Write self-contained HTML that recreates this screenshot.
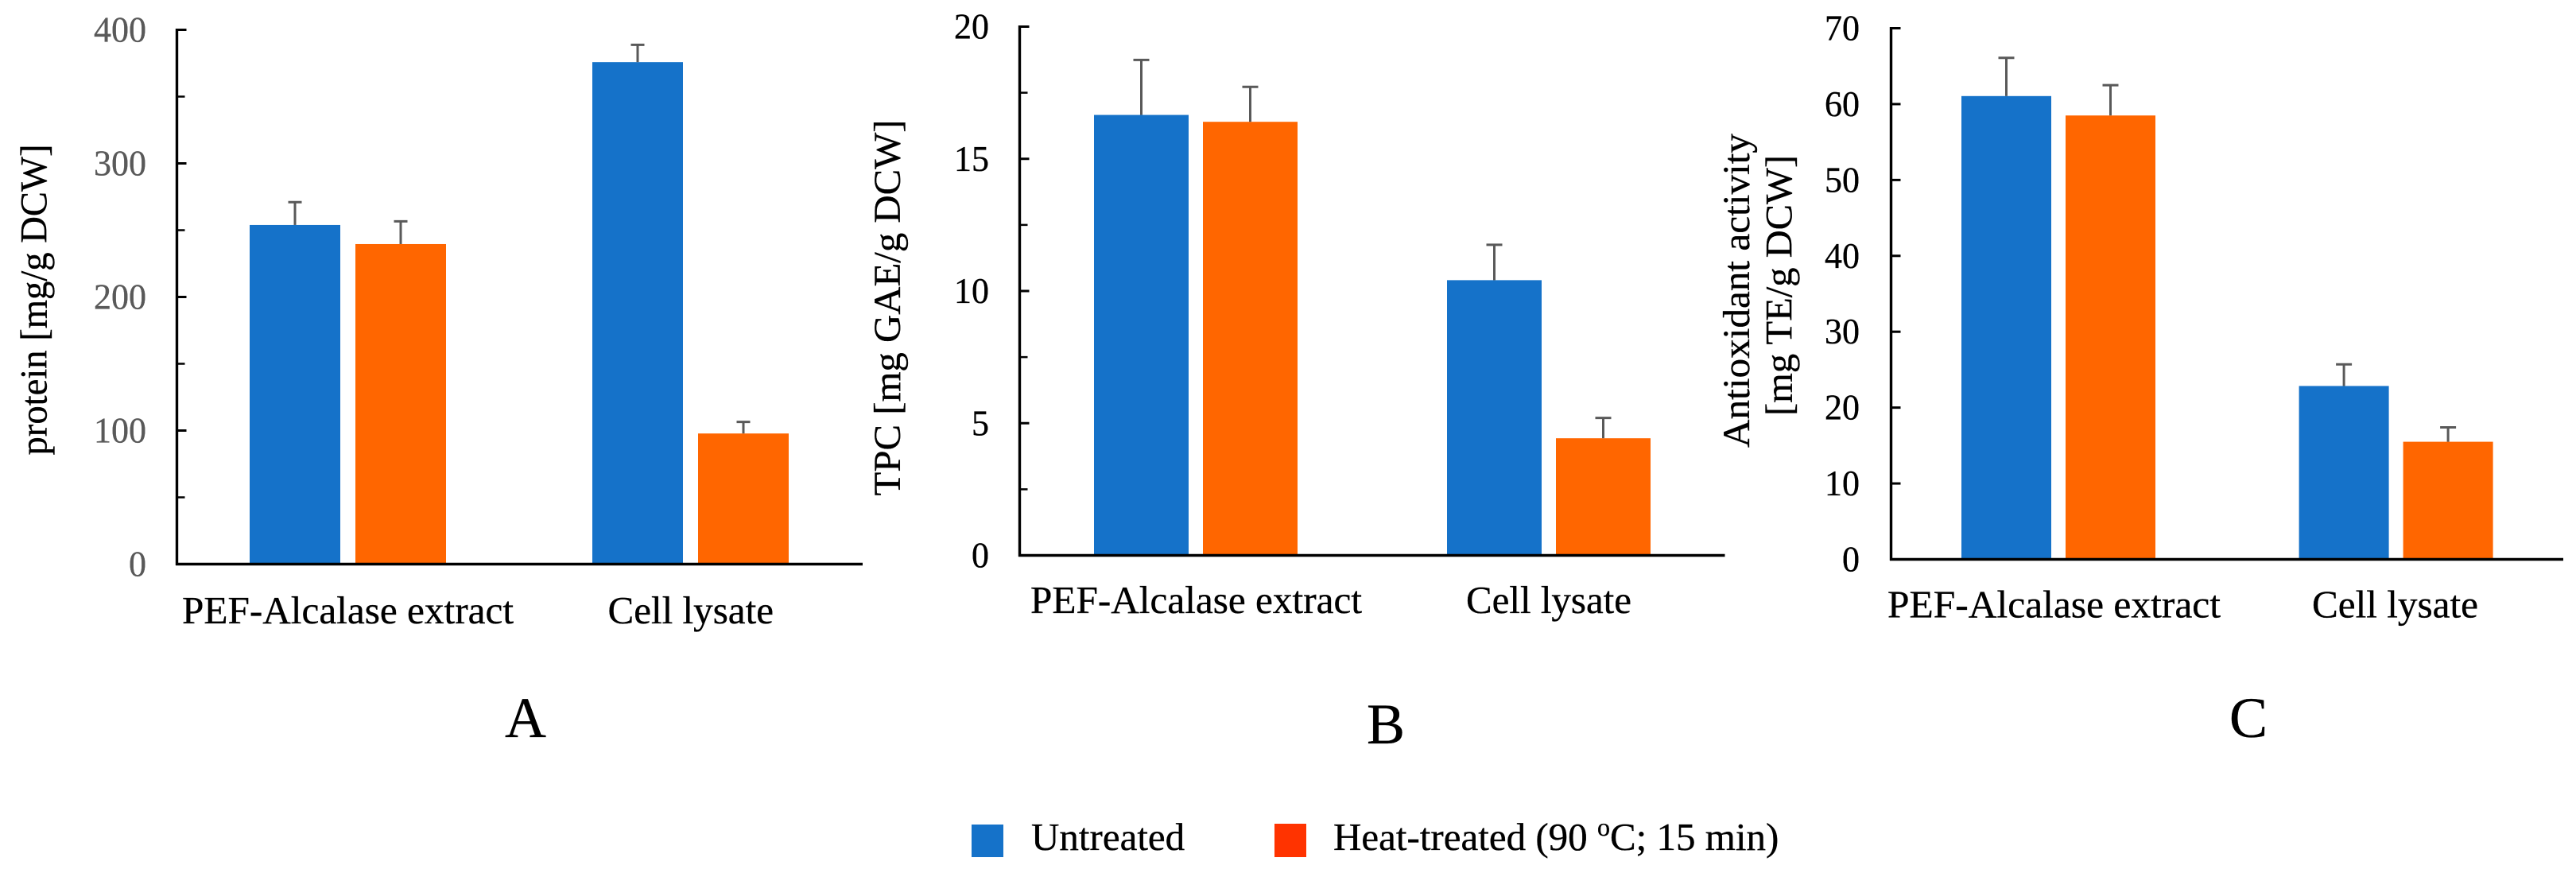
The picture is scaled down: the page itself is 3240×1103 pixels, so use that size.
<!DOCTYPE html>
<html lang="en">
<head>
<meta charset="utf-8">
<title>Protein, TPC and antioxidant activity bar charts</title>
<style>
html,body{margin:0;padding:0;background:#fff;}
svg{display:block;font-family:"Liberation Serif",serif;}
text{stroke-width:0.35px;paint-order:stroke;}
</style>
</head>
<body>
<svg id="figure" xmlns="http://www.w3.org/2000/svg" width="3240" height="1103" viewBox="0 0 3240 1103">
  <rect x="0" y="0" width="3240" height="1103" fill="#ffffff"/>
  <text x="635" y="927" font-size="72" fill="#000" stroke="#000">A</text>
  <text x="1719" y="935" font-size="72" fill="#000" stroke="#000">B</text>
  <text x="2804" y="927" font-size="72" fill="#000" stroke="#000">C</text>
  <g>
    <rect x="1222" y="1037" width="40" height="41" fill="#1572C9"/>
    <text x="1297" y="1069" font-size="49" fill="#000" stroke="#000">Untreated</text>
    <rect x="1603" y="1036" width="40" height="42" fill="#FF3300"/>
    <text x="1677" y="1069" font-size="49" fill="#000" stroke="#000">Heat-treated (90 <tspan font-size="32" dy="-18">o</tspan><tspan dy="18">C; 15 min)</tspan></text>
  </g>
</svg>
<script>
// Shared categories and series names
const categories = ['PEF-Alcalase extract', 'Cell lysate'];
const seriesNames = ['untreated', 'heat-treated'];
const seriesColors = ['#1572C9', '#FF6600'];

// Panel A: protein
const proteinUntreated = [253.9, 375.8];
const proteinHeatTreated = [239.6, 97.8];
const proteinUntreatedTop = [271, 388.8];
const proteinHeatTreatedTop = [256.6, 106.5];
const proteinMajorTicks = [0, 100, 200, 300, 400];
const proteinMinorTicks = [50, 150, 250, 350];

// Panel B: TPC
const tpcUntreated = [16.66, 10.41];
const tpcHeatTreated = [16.4, 4.43];
const tpcUntreatedTop = [18.74, 11.75];
const tpcHeatTreatedTop = [17.72, 5.2];
const tpcMajorTicks = [0, 5, 10, 15, 20];
const tpcMinorTicks = [2.5, 7.5, 12.5, 17.5];

// Panel C: antioxidant activity
const antioxUntreated = [61.06, 22.85];
const antioxHeatTreated = [58.5, 15.5];
const antioxUntreatedTop = [66.1, 25.7];
const antioxHeatTreatedTop = [62.5, 17.4];
const antioxMajorTicks = [0, 10, 20, 30, 40, 50, 60, 70];
const antioxMinorTicks = [];

const svg = document.getElementById('figure');
const NS = 'http://www.w3.org/2000/svg';

function line(parent, x1, y1, x2, y2, color, width) {
  const el = document.createElementNS(NS, 'line');
  el.setAttribute('x1', x1);
  el.setAttribute('y1', y1);
  el.setAttribute('x2', x2);
  el.setAttribute('y2', y2);
  el.setAttribute('stroke', color);
  el.setAttribute('stroke-width', width);
  parent.appendChild(el);
  return el;
}

function label(parent, str, x, y, size, color, anchor, fitWidth) {
  const el = document.createElementNS(NS, 'text');
  el.textContent = str;
  el.setAttribute('x', x);
  el.setAttribute('y', y);
  el.setAttribute('font-size', size);
  el.setAttribute('fill', color);
  el.setAttribute('stroke', color);
  el.setAttribute('text-anchor', anchor);
  if (fitWidth) {
    el.setAttribute('textLength', fitWidth);
    el.setAttribute('lengthAdjust', 'spacingAndGlyphs');
  }
  parent.appendChild(el);
  return el;
}

function drawPanel(p) {
  const g = document.createElementNS(NS, 'g');
  
  
  svg.appendChild(g);

  const yScale = v => p.y0 + (p.yTop - p.y0) * (v - p.min) / (p.max - p.min);
  const barX = (c, s) => p.x0 + c * p.groupStep + s * p.barStep;

  // bars
  p.values.forEach((vals, s) => {
    vals.forEach((v, c) => {
      const r = document.createElementNS(NS, 'rect');
      
      
      r.setAttribute('x', barX(c, s));
      r.setAttribute('y', yScale(v));
      r.setAttribute('width', p.barW);
      r.setAttribute('height', p.y0 - yScale(v));
      r.setAttribute('fill', seriesColors[s]);
      g.appendChild(r);
    });
  });

  // error bars
  p.tops.forEach((vals, s) => {
    vals.forEach((v, c) => {
      const cx = barX(c, s) + p.barW / 2;
      const eg = document.createElementNS(NS, 'g');
      
      
      g.appendChild(eg);
      line(eg, cx, yScale(p.values[s][c]), cx, yScale(v), '#595959', 3);
      line(eg, cx - p.cap / 2, yScale(v), cx + p.cap / 2, yScale(v), '#595959', 3);
    });
  });

  // axes
  const yAxis = line(g, p.axisX, p.yTop - 1.5, p.axisX, p.y0 + 1.5, '#000', 3.4);
  
  
  const xAxis = line(g, p.axisX - 1.5, p.y0, p.axisEnd, p.y0, '#000', 3.4);
  
  

  p.majorTicks.forEach(t => {
    const tick = line(g, p.axisX, yScale(t), p.axisX + 12, yScale(t), '#000', 3);
    
    
    const str = String(t);
    const tl = label(g, str, p.tickRight, yScale(t) + 15, 45, p.tickColor, 'end', str.length * 22);
    
    
  });
  p.minorTicks.forEach(t => {
    const tick = line(g, p.axisX, yScale(t), p.axisX + 10, yScale(t), '#000', 2.5);
    
    
  });

  // category labels
  categories.forEach((c, i) => {
    const l = label(g, c, p.catX[i], p.catY, 49, '#000', 'start', p.catW[i]);
    
    
  });

  // axis titles
  p.titles.forEach(t => {
    const l = label(g, t.text, 0, 0, 48, '#000', 'middle', t.len);
    l.setAttribute('transform', 'translate(' + t.x + ' ' + t.y + ') rotate(-90)');
    
    
  });
}

drawPanel({
  name: 'chart-protein', min: 0, max: 400, y0: 709.5, yTop: 37.5,
  axisX: 222.5, axisEnd: 1085, x0: 314, barW: 114, barStep: 133, groupStep: 431, cap: 17,
  tickRight: 184, tickColor: '#595959',
  values: [proteinUntreated, proteinHeatTreated], tops: [proteinUntreatedTop, proteinHeatTreatedTop],
  majorTicks: proteinMajorTicks, minorTicks: proteinMinorTicks,
  catX: [229, 764.5], catW: [417, 208.5], catY: 784,
  titles: [{ text: 'protein [mg/g DCW]', x: 58.5, y: 377, len: 391 }]
});

drawPanel({
  name: 'chart-tpc', min: 0, max: 20, y0: 698.5, yTop: 33.5,
  axisX: 1282.5, axisEnd: 2169.5, x0: 1376, barW: 119, barStep: 137, groupStep: 444, cap: 20,
  tickRight: 1244, tickColor: '#000',
  values: [tpcUntreated, tpcHeatTreated], tops: [tpcUntreatedTop, tpcHeatTreatedTop],
  majorTicks: tpcMajorTicks, minorTicks: tpcMinorTicks,
  catX: [1296, 1844], catW: [417, 208], catY: 771,
  titles: [{ text: 'TPC [mg GAE/g DCW]', x: 1132, y: 387, len: 473 }]
});

drawPanel({
  name: 'chart-antioxidant', min: 0, max: 70, y0: 703.5, yTop: 35.5,
  axisX: 2378.5, axisEnd: 3224, x0: 2467, barW: 113, barStep: 131, groupStep: 424.6, cap: 20,
  tickRight: 2339, tickColor: '#000',
  values: [antioxUntreated, antioxHeatTreated], tops: [antioxUntreatedTop, antioxHeatTreatedTop],
  majorTicks: antioxMajorTicks, minorTicks: antioxMinorTicks,
  catX: [2374, 2908], catW: [419, 209], catY: 776.5,
  titles: [
    { text: 'Antioxidant activity', x: 2200, y: 365.5, len: 395 },
    { text: '[mg TE/g DCW]', x: 2253.7, y: 359, len: 328 }
  ]
});
</script>
</body>
</html>
